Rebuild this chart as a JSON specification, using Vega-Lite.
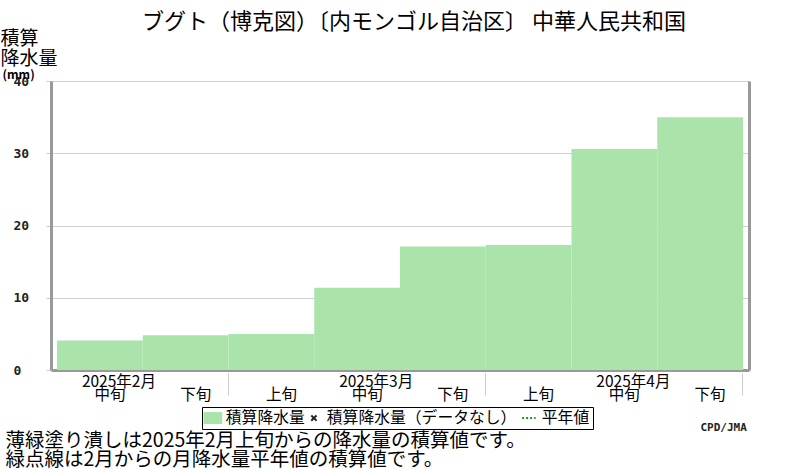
{
  "$schema": "https://vega.github.io/schema/vega-lite/v6.json",
  "width": 698,
  "height": 289,
  "autosize": {"type": "none"},
  "padding": {"left": 51, "top": 81, "right": 51, "bottom": 100},
  "background": "white",
  "title": {
    "text": "ブグト（博克図）〔内モンゴル自治区〕 中華人民共和国",
    "font": "Noto Sans CJK JP",
    "fontSize": 22,
    "fontWeight": "normal",
    "color": "#000000",
    "anchor": "middle",
    "dx": 14,
    "offset": -5
  },
  "data": {
    "values": [
      {"dekad": "2月中旬", "value": 4.1, "series": "積算降水量"},
      {"dekad": "2月下旬", "value": 4.8, "series": "積算降水量"},
      {"dekad": "3月上旬", "value": 5.0, "series": "積算降水量"},
      {"dekad": "3月中旬", "value": 11.4, "series": "積算降水量"},
      {"dekad": "3月下旬", "value": 17.1, "series": "積算降水量"},
      {"dekad": "4月上旬", "value": 17.3, "series": "積算降水量"},
      {"dekad": "4月中旬", "value": 30.6, "series": "積算降水量"},
      {"dekad": "4月下旬", "value": 35.0, "series": "積算降水量"}
    ]
  },
  "layer": [
    {
      "mark": {"type": "bar"},
      "encoding": {
        "x": {
          "field": "dekad",
          "type": "nominal",
          "sort": null,
          "scale": {"type": "band", "paddingInner": 0, "paddingOuter": 0.07},
          "axis": {
            "orient": "bottom",
            "labelExpr": "substring(datum.value, 2)",
            "labelOffset": 10,
            "labelPadding": 17,
            "labelAngle": 0,
            "labelBaseline": "top",
            "labelFontSize": 15.5,
            "labelFont": "Noto Sans CJK JP",
            "labelColor": "#000000",
            "labelOverlap": false,
            "ticks": false,
            "domain": true,
            "domainColor": "#999999",
            "domainWidth": 3,
            "grid": false,
            "title": ["薄緑塗り潰しは2025年2月上旬からの降水量の積算値です。", "緑点線は2月からの月降水量平年値の積算値です。"],
            "titleX": -46,
            "titleY": 61,
            "titleAlign": "left",
            "titleBaseline": "top",
            "titleFont": "Noto Sans CJK JP",
            "titleFontSize": 19.5,
            "titleFontWeight": "normal",
            "titleLineHeight": 19.5,
            "titleColor": "#000000"
          }
        },
        "y": {
          "field": "value",
          "type": "quantitative",
          "scale": {"domain": [0, 40]},
          "axis": {
            "orient": "left",
            "values": [0, 10, 20, 30, 40],
            "grid": true,
            "gridColor": "#d0d0d0",
            "gridWidth": 1,
            "ticks": true,
            "tickSize": 5,
            "tickColor": "#cccccc",
            "domain": true,
            "domainColor": "#999999",
            "domainWidth": 3,
            "labelAlign": "left",
            "labelBaseline": "middle",
            "labelPadding": 33,
            "labelFont": "DejaVu Sans Mono",
            "labelFontWeight": "bold",
            "labelFontSize": 13,
            "labelColor": "#222222",
            "title": ["積算", "降水量"],
            "titleAngle": 0,
            "titleAlign": "left",
            "titleBaseline": "top",
            "titleX": -51,
            "titleY": -52,
            "titleFont": "Noto Sans CJK JP",
            "titleFontSize": 19,
            "titleFontWeight": "normal",
            "titleLineHeight": 20,
            "titleColor": "#000000"
          }
        },
        "color": {
          "field": "series",
          "type": "nominal",
          "scale": {
            "domain": ["積算降水量", "積算降水量（データなし）", "平年値"],
            "range": ["#abe4ab", "#222222", "#1a9a1a"]
          },
          "legend": {
            "orient": "none",
            "legendX": 151,
            "legendY": 326,
            "direction": "horizontal",
            "title": null,
            "strokeColor": "#000000",
            "fillColor": "#ffffff",
            "padding": 3,
            "symbolSize": 225,
            "labelOffset": 5,
            "columnPadding": 1,
            "labelFont": "Noto Sans CJK JP",
            "labelFontSize": 15.8,
            "labelColor": "#000000",
            "labelLimit": 300,
            "encode": {
              "symbols": {
                "update": {
                  "shape": {"signal": "datum.value === '平年値' ? 'M-0.9,0H0.9' : datum.value === '積算降水量（データなし）' ? 'M-0.35,-0.35L0.35,0.35M-0.35,0.35L0.35,-0.35' : 'M-1.25,-0.8H1.25V0.8H-1.25Z'"},
                  "fill": {"signal": "datum.value === '積算降水量' ? '#abe4ab' : 'transparent'"},
                  "stroke": {"signal": "datum.value === '平年値' ? '#1a9a1a' : datum.value === '積算降水量（データなし）' ? '#222222' : 'transparent'"},
                  "strokeWidth": {"signal": "datum.value === '積算降水量' ? 0 : 2"},
                  "strokeDash": {"signal": "datum.value === '平年値' ? [2, 2] : [1, 0]"},
                  "opacity": {"value": 1}
                }
              }
            }
          }
        }
      }
    },
    {
      "mark": {"type": "bar", "opacity": 0},
      "encoding": {
        "x": {
          "field": "dekad",
          "type": "nominal",
          "sort": null,
          "scale": {"type": "band", "paddingInner": 0, "paddingOuter": 0.07},
          "axis": {
            "orient": "bottom",
            "values": ["2月中旬", "3月中旬", "4月中旬"],
            "labelExpr": "'2025年' + substring(datum.value, 0, 2)",
            "labelOffset": 19,
            "labelPadding": 4,
            "labelAngle": 0,
            "labelBaseline": "top",
            "labelFontSize": 15.5,
            "labelFont": "Noto Sans CJK JP",
            "labelColor": "#000000",
            "labelOverlap": false,
            "ticks": false,
            "domain": false,
            "grid": false,
            "title": null
          }
        },
        "y": {
          "field": "value",
          "type": "quantitative",
          "scale": {"domain": [0, 40]},
          "axis": {
            "orient": "right",
            "domain": true,
            "domainColor": "#999999",
            "domainWidth": 3,
            "ticks": false,
            "labels": false,
            "grid": false,
            "title": "(mm)",
            "titleAngle": 0,
            "titleAlign": "left",
            "titleBaseline": "top",
            "titleX": -747,
            "titleY": -12,
            "titleFont": "Noto Sans CJK JP",
            "titleFontSize": 12,
            "titleFontWeight": "bold",
            "titleColor": "#000000"
          }
        }
      }
    },
    {
      "mark": {"type": "bar", "opacity": 0},
      "encoding": {
        "x": {
          "field": "dekad",
          "type": "nominal",
          "sort": null,
          "scale": {"type": "band", "paddingInner": 0, "paddingOuter": 0.07},
          "axis": {
            "orient": "bottom",
            "offset": 3,
            "values": ["2月下旬", "3月下旬", "4月下旬"],
            "bandPosition": 1,
            "ticks": true,
            "tickSize": 22,
            "tickColor": "#cccccc",
            "tickWidth": 1,
            "labels": false,
            "domain": false,
            "grid": false,
            "title": "CPD/JMA",
            "titleX": 649,
            "titleY": 48,
            "titleAlign": "left",
            "titleBaseline": "top",
            "titleFont": "DejaVu Sans Mono",
            "titleFontSize": 11,
            "titleFontWeight": "bold",
            "titleColor": "#222222"
          }
        },
        "y": {
          "field": "value",
          "type": "quantitative",
          "scale": {"domain": [0, 40]},
          "axis": null
        }
      }
    }
  ],
  "resolve": {"axis": {"x": "independent", "y": "independent"}},
  "config": {
    "view": {"stroke": null},
    "font": "Noto Sans CJK JP"
  }
}
